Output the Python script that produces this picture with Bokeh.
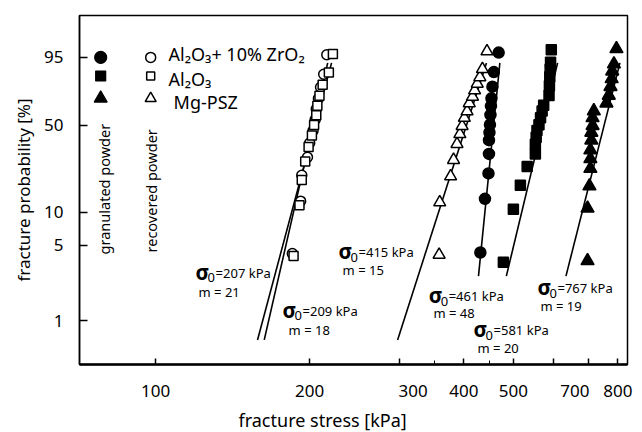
import numpy as np
from bokeh.plotting import figure
from bokeh.models import FixedTicker, Title
from bokeh.core.properties import value
from bokeh.embed import file_html
from bokeh.resources import INLINE

# ---------------- data ----------------
# fracture stress [kPa] and fracture probability [%]
zr_gran_x = [431, 440, 447, 448, 448, 449, 450, 451, 452, 453, 455, 458, 468]
zr_gran_F = [4.3, 13.1, 21.6, 31.0, 39.3, 44.6, 50.3, 57.8, 64.8, 70.9, 79.6, 88.7, 96.4]

zr_rec_x = [185, 192, 193, 198, 200, 203, 205, 206, 208, 210, 213, 216]
zr_rec_F = [4.2, 12.5, 20.8, 29.2, 37.5, 45.8, 54.2, 62.5, 70.8, 79.2, 87.5, 95.8]

al_gran_x = [478, 500, 516, 532, 552, 552, 554, 556, 561, 565, 569, 573, 587, 588, 589, 590, 591, 593]
al_gran_F = [3.5, 10.6, 17.2, 24.6, 31.0, 36.7, 41.2, 46.0, 50.3, 55.5, 60.9, 65.5, 73.2, 80.3, 86.0, 90.2, 93.3, 97.1]

al_rec_x = [186, 191, 193, 196, 199, 202, 204, 206, 207, 209, 212, 218, 222]
al_rec_F = [4.0, 11.5, 19.0, 27.0, 35.0, 42.5, 50.0, 57.5, 65.0, 73.0, 81.0, 88.5, 96.0]

mg_gran_x = [698, 698, 704, 707, 707, 707, 710, 710, 714, 714, 718, 760, 768, 774, 778, 780, 786, 795]
mg_gran_F = [3.6, 10.8, 16.9, 23.7, 28.4, 33.2, 39.3, 44.6, 49.5, 55.5, 60.9, 67.1, 73.2, 79.6, 84.8, 89.2, 92.5, 97.3]

mg_rec_x = [358, 359, 377, 382, 388, 393, 397, 401, 406, 410, 416, 420, 425, 430, 435, 444]
mg_rec_F = [4.1, 12.2, 20.4, 27.8, 36.9, 43.4, 49.3, 55.5, 60.6, 67.1, 72.2, 77.0, 81.6, 85.8, 90.2, 96.7]

# Weibull fits: characteristic strength sigma0 [kPa], modulus m, drawn range of F [%]
fit_sigma0 = [207, 209, 415, 461, 581, 767]
fit_m = [21, 18, 15, 48, 20, 19]
fit_F_lo = [0.66, 0.66, 0.66, 2.6, 2.6, 2.6]
fit_F_hi = [93, 93, 93, 93, 93, 93]

# tick values and labels
NB = "\u00a0"
x_ticks = [100, 200, 300, 400, 500, 600, 700, 800]
x_tick_labels = ["100", "200", NB * 6 + "300", "400", "500", "", "700" + NB * 6, "800"]
x_minor = [350, 450]
y_ticks = [1, 5, 10, 50, 95]
y_tick_labels = ["1", "5", "10", "50", "95"]

legend_labels = ["Al\u2082O\u2083+ 10% ZrO\u2082", "Al\u2082O\u2083", "Mg-PSZ"]

# annotation anchors (kPa, %)
ann_sig_x = [119.7, 177.0, 227.7, 341.5, 418.0, 557.3]
ann_sig_F = [2.85, 1.26, 4.40, 1.73, 0.83, 2.04]
ann_m_x = [121.3, 181.9, 231.9, 349.1, 425.6, 564.9]
ann_m_F = [1.84, 0.81, 2.97, 1.18, 0.556, 1.37]


def wb(F):
    """Weibull probability scale: ln(-ln(1-F))."""
    return np.log(-np.log(1.0 - np.asarray(F, dtype=float) / 100.0))


FONT = value("Noto Sans")

p = figure(width=642, height=432, x_axis_type="log",
           x_range=(71, 835.5), y_range=(-5.549, 2.004),
           output_backend="svg", toolbar_location=None,
           min_border_left=79, min_border_right=15, min_border_top=15, min_border_bottom=59)
p.grid.visible = False
p.outline_line_color = "black"
p.outline_line_width = 1.5
p.background_fill_color = "white"
p.border_fill_color = "white"

# axes
xax = p.xaxis[0]
xax.ticker = FixedTicker(ticks=x_ticks, minor_ticks=x_minor)
xax.major_label_overrides = {t: l for t, l in zip(x_ticks, x_tick_labels)}
xax.major_tick_in = 6
xax.major_tick_out = 0
xax.minor_tick_in = 4
xax.minor_tick_out = 0
xax.axis_line_width = 2.5
xax.major_tick_line_width = 1.5
xax.major_label_standoff = 14
xax.major_label_text_font = "Noto Sans"
xax.major_label_text_font_size = "17px"
xax.major_label_text_color = "black"

yw = [float(v) for v in wb(y_ticks)]
yax = p.yaxis[0]
yax.ticker = FixedTicker(ticks=yw, minor_ticks=[])
yax.major_label_overrides = {t: l for t, l in zip(yw, y_tick_labels)}
yax.major_tick_in = 8
yax.major_tick_out = 0
yax.minor_tick_in = 0
yax.minor_tick_out = 0
yax.axis_line_width = 1.5
yax.major_tick_line_width = 1.5
yax.major_label_standoff = 16
yax.major_label_text_font = "Noto Sans"
yax.major_label_text_font_size = "17px"
yax.major_label_text_color = "black"

# axis titles
p.add_layout(Title(text="fracture stress [kPa]", align="left", offset=159, standoff=2,
                   text_font="Noto Sans", text_font_size="18px",
                   text_font_style="normal", text_color="black"), "below")
p.add_layout(Title(text="fracture probability [%]", align="center", standoff=14,
                   text_font="Noto Sans", text_font_size="17px",
                   text_font_style="normal", text_color="black"), "left")

# Weibull fit lines
for s0, m, flo, fhi in zip(fit_sigma0, fit_m, fit_F_lo, fit_F_hi):
    F = np.array([flo, fhi]) / 100.0
    xs = s0 * (-np.log(1.0 - F)) ** (1.0 / m)
    p.line(xs, np.log(-np.log(1.0 - F)), line_color="black", line_width=1.6)

# data markers
series = [
    (zr_rec_x, zr_rec_F, "circle", 10, "white"),
    (al_rec_x, al_rec_F, "square", 9, "white"),
    (mg_rec_x, mg_rec_F, "triangle", 12, "white"),
    (zr_gran_x, zr_gran_F, "circle", 11, "black"),
    (al_gran_x, al_gran_F, "square", 10, "black"),
    (mg_gran_x, mg_gran_F, "triangle", 13, "black"),
]
for xs, Fs, mk, sz, fc in series:
    p.scatter(xs, wb(Fs), marker=mk, size=sz, fill_color=fc,
              line_color="black", line_width=1.5)

# legend (custom, two marker columns)
leg_F = [95.0, 86.5, 70.9]
leg_text_F = [95.9, 84.8, 67.9]
leg_text_x = [106.0, 106.0, 108.4]
leg_markers = ["circle", "square", "triangle"]
leg_sizes = [12, 10, 13]
for F, mk, sz in zip(leg_F, leg_markers, leg_sizes):
    p.scatter([78.1], wb([F]), marker=mk, size=sz, fill_color="black",
              line_color="black", line_width=1.2)
    p.scatter([97.8], wb([F]), marker=mk, size=sz - 2, fill_color="white",
              line_color="black", line_width=1.5)
p.text(x=leg_text_x, y=wb(leg_text_F), text=legend_labels, text_font=FONT,
       text_font_size="18px", text_align="left", text_baseline="alphabetic",
       text_color="black")

# rotated column headers
p.text(x=[79.2, 97.8], y=wb([4.13, 4.3]), text=["granulated powder", "recovered powder"],
       angle=np.pi / 2, text_font=FONT, text_font_size="14.5px",
       text_align="left", text_baseline="middle", text_color="black")

# fit annotations
p.text(x=ann_sig_x, y=wb(ann_sig_F), text=["\u03c3"] * len(ann_sig_x), text_font=FONT,
       text_font_size="21px", text_font_style="bold", text_align="left",
       text_baseline="middle", text_color="black")
p.text(x=ann_sig_x, y=wb(ann_sig_F), text=["0"] * len(ann_sig_x), text_font=FONT,
       text_font_size="13px", text_align="left", text_baseline="middle",
       x_offset=12, y_offset=6, text_color="black")
p.text(x=ann_sig_x, y=wb(ann_sig_F), text=["=%d kPa" % s for s in fit_sigma0],
       text_font=FONT, text_font_size="13px", text_align="left",
       text_baseline="middle", x_offset=20, y_offset=1, text_color="black")
p.text(x=ann_m_x, y=wb(ann_m_F), text=["m = %d" % m for m in fit_m],
       text_font=FONT, text_font_size="13px", text_align="left",
       text_baseline="middle", text_color="black")

open("out.html", "w").write(file_html(p, INLINE))
